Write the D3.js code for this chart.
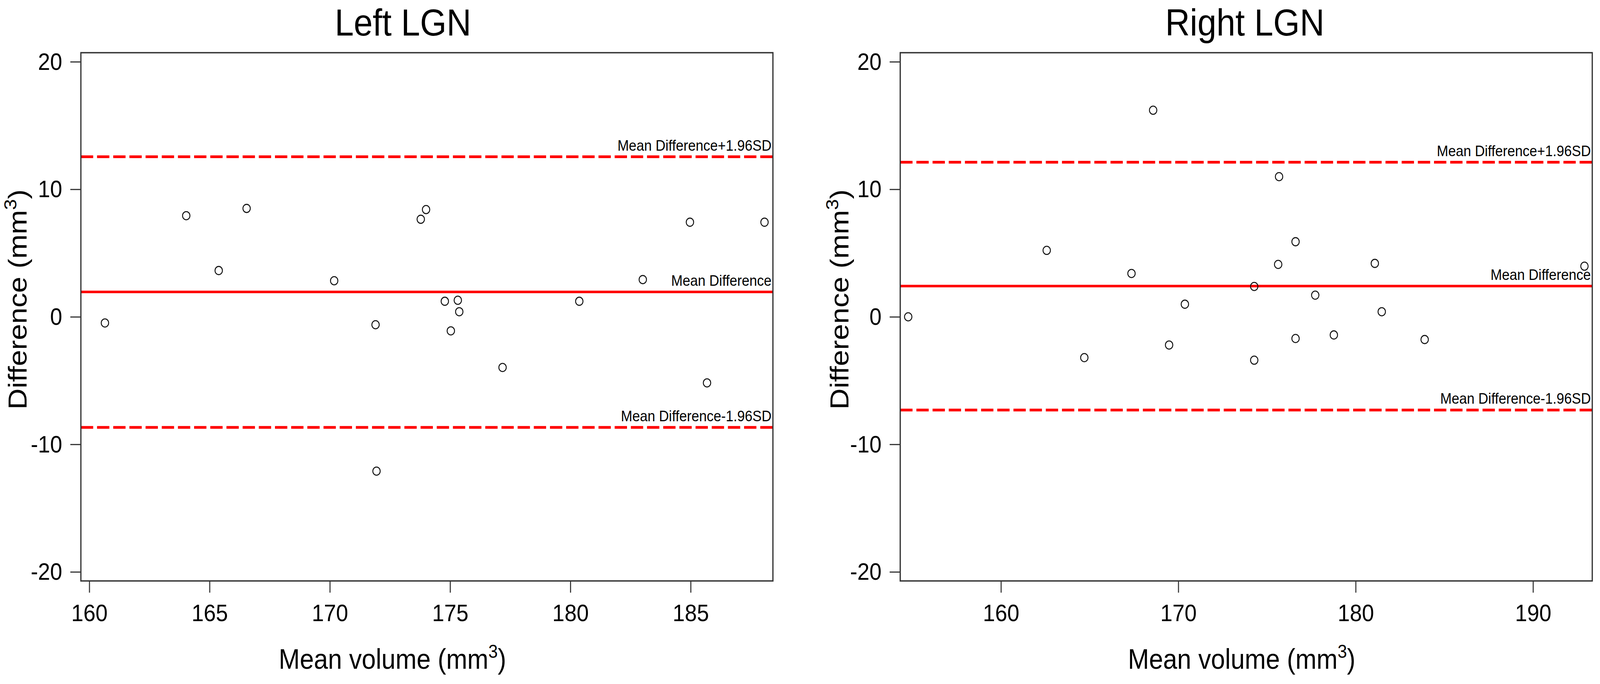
<!DOCTYPE html>
<html lang="en">

<head>
    <meta charset="utf-8" />
    <title>Bland-Altman plots, Left and Right LGN</title>
    <script src="https://d3js.org/d3.v7.min.js"></script>
    <style>
        html,
        body {
            margin: 0;
            padding: 0;
            width: 100%;
            height: 100%;
            overflow: hidden;
            background: #fff;
        }

        svg {
            display: block;
            width: 100vw;
            height: 100vh;
        }

        svg text {
            font-family: "Liberation Sans", Arial, Helvetica, sans-serif;
            fill: #000;
        }

        .axis path.domain {
            display: none;
        }

        .axis line {
            stroke: #333;
            stroke-width: 3;
        }

        .axis text {
            font-size: 62px;
        }
    </style>
</head>

<body>
    <script>
        // Data
        const panelTitles = ["Left LGN", "Right LGN"];

        const leftMeanVolume = [160.65, 164.03, 165.38, 166.54, 170.18, 171.90, 171.94, 173.78, 174.00, 174.78,
            175.32, 175.38, 175.03, 177.18, 180.37, 183.01, 184.97, 185.68, 188.07];
        const leftDifference = [-0.48, 7.93, 3.63, 8.50, 2.83, -0.62, -12.10, 7.65, 8.41, 1.22,
            1.30, 0.40, -1.10, -3.97, 1.22, 2.92, 7.42, -5.18, 7.42];

        const rightMeanVolume = [154.77, 162.58, 164.70, 167.36, 168.58, 169.48, 170.37, 174.28, 174.28, 175.63,
            175.68, 176.61, 176.61, 177.72, 178.77, 181.08, 181.47, 183.89, 192.90];
        const rightDifference = [0.00, 5.21, -3.20, 3.40, 16.20, -2.21, 0.99, 2.38, -3.40, 4.11,
            10.99, 5.89, -1.70, 1.70, -1.42, 4.19, 0.40, -1.78, 3.97];

        // upper limit, mean difference, lower limit
        const leftLimits = [12.55, 1.95, -8.67];
        const rightLimits = [12.12, 2.41, -7.31];
        const limitLabels = ["Mean Difference+1.96SD", "Mean Difference", "Mean Difference-1.96SD"];
        const limitDashed = [true, false, true];

        const leftXTicks = [160, 165, 170, 175, 180, 185];
        const rightXTicks = [160, 170, 180, 190];
        const yTicks = [-20, -10, 0, 10, 20];

        const leftXDomain = [159.65, 188.42];
        const rightXDomain = [154.32, 193.34];
        const yDomain = [-20.71, 20.71];

        const xLabel = "Mean volume (mm";
        const yLabel = "Difference (mm";

        /////////////////////////

        const W = 4550, H = 1752;
        const boxTop = 135, boxBottom = 1488;

        // drawn in a 4550x1752 user space, scaled to the window
        const svg = d3.select("body").append("svg")
            .attr("viewBox", `0 0 ${W} ${H}`)
            .attr("preserveAspectRatio", "none");

        // layout of each panel (box edges, where the titles sit)
        const panels = [
            {
                title: panelTitles[0], x: leftMeanVolume, y: leftDifference, limits: leftLimits,
                xTicks: leftXTicks, xDomain: leftXDomain,
                left: 230, right: 2198, titleX: 1146, xLabelX: 1116, yLabelX: 76
            },
            {
                title: panelTitles[1], x: rightMeanVolume, y: rightDifference, limits: rightLimits,
                xTicks: rightXTicks, xDomain: rightXDomain,
                left: 2560, right: 4528, titleX: 3540, xLabelX: 3531, yLabelX: 2413
            }
        ];

        panels.forEach(drawPanel);

        function drawPanel(p) {
            const xscale = d3.scaleLinear().domain(p.xDomain).range([p.left, p.right]);
            const yscale = d3.scaleLinear().domain(yDomain).range([boxBottom, boxTop]);

            const g = svg.append("g");

            // limit lines
            g.selectAll("line.limit")
                .data(p.limits)
                .join("line")
                .attr("class", "limit")
                .attr("x1", p.left)
                .attr("x2", p.right)
                .attr("y1", (d) => yscale(d))
                .attr("y2", (d) => yscale(d))
                .attr("stroke", "#ff0000")
                .attr("stroke-width", (d, i) => (limitDashed[i] ? 7 : 6.5))
                .attr("stroke-dasharray", (d, i) => (limitDashed[i] ? "35,11" : null));

            g.selectAll("text.limit")
                .data(p.limits)
                .join("text")
                .attr("class", "limit")
                .attr("x", p.right - 4)
                .attr("y", (d) => yscale(d) - 16)
                .attr("text-anchor", "end")
                .attr("font-size", 39)
                .text((d, i) => limitLabels[i]);

            // points
            g.selectAll("circle")
                .data(p.x.map((d, i) => ({ x: d, y: p.y[i] })))
                .join("circle")
                .attr("cx", (d) => xscale(d.x))
                .attr("cy", (d) => yscale(d.y))
                .attr("r", 10.5)
                .attr("fill", "none")
                .attr("stroke", "#111")
                .attr("stroke-width", 2.6);

            // box
            g.append("rect")
                .attr("x", p.left)
                .attr("y", boxTop)
                .attr("width", p.right - p.left)
                .attr("height", boxBottom - boxTop)
                .attr("fill", "none")
                .attr("stroke", "#333")
                .attr("stroke-width", 3.5);

            // axes (plain hyphen for negatives, like the reference)
            const xaxis = d3.axisBottom(xscale).tickValues(p.xTicks).tickSize(30).tickPadding(29)
                .tickFormat((d) => String(d));
            g.append("g").attr("class", "x axis")
                .attr("transform", `translate(0,${boxBottom})`)
                .call(xaxis);

            const yaxis = d3.axisLeft(yscale).tickValues(yTicks).tickSize(30).tickPadding(23)
                .tickFormat((d) => String(d));
            g.append("g").attr("class", "y axis")
                .attr("transform", `translate(${p.left},0)`)
                .call(yaxis);

            // titles
            g.append("text")
                .attr("x", p.titleX)
                .attr("y", 91)
                .attr("text-anchor", "middle")
                .attr("font-size", 97)
                .text(p.title);

            const xl = g.append("text")
                .attr("x", p.xLabelX)
                .attr("y", 1713)
                .attr("text-anchor", "middle")
                .attr("font-size", 72);
            xl.append("tspan").text(xLabel);
            xl.append("tspan").attr("font-size", 48).attr("dy", -28).text("3");
            xl.append("tspan").attr("dy", 28).text(")");

            const yl = g.append("text")
                .attr("transform", `translate(${p.yLabelX},767) rotate(-90)`)
                .attr("text-anchor", "middle")
                .attr("font-size", 75);
            yl.append("tspan").text(yLabel);
            yl.append("tspan").attr("font-size", 50).attr("dy", -29).text("3");
            yl.append("tspan").attr("dy", 29).text(")");
        }
    </script>
</body>

</html>
